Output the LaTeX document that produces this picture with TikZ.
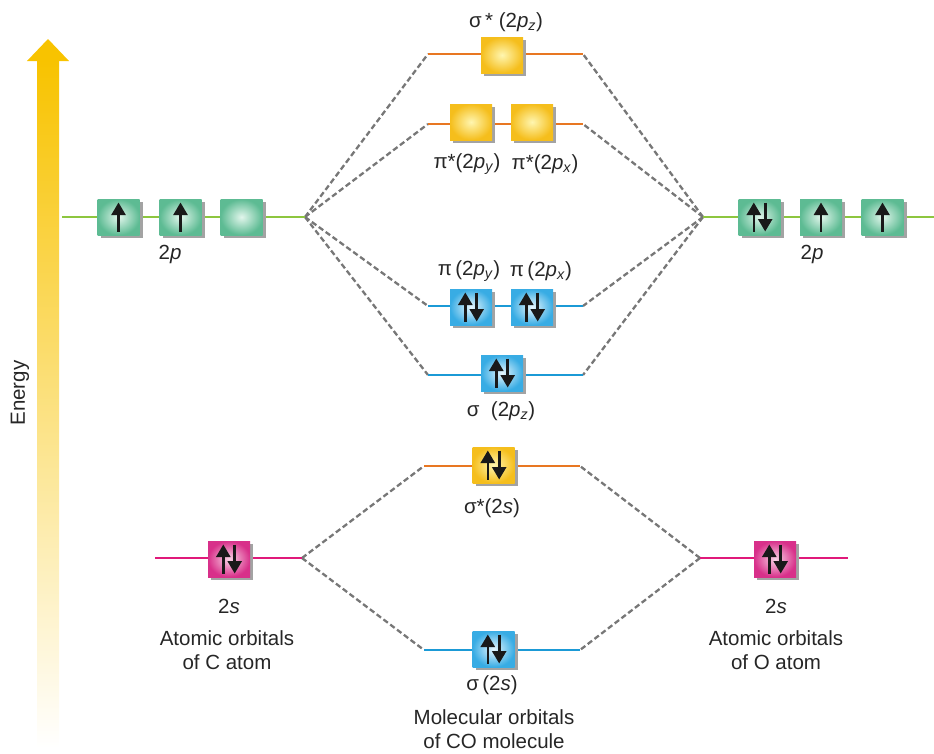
\documentclass[tikz,border=0pt]{standalone}
\usepackage{fontspec}
\setmainfont{Liberation Sans}
\usetikzlibrary{arrows.meta,shadows,calc}
\definecolor{enY}{HTML}{F8C300}
\definecolor{gIn}{HTML}{E2F6EC}
\definecolor{gOut}{HTML}{5DBB93}
\definecolor{yIn}{HTML}{FFF6B0}
\definecolor{yOut}{HTML}{F5BE1C}
\definecolor{bIn}{HTML}{E8F7FE}
\definecolor{bOut}{HTML}{38ACE4}
\definecolor{pIn}{HTML}{F8D4E6}
\definecolor{pOut}{HTML}{D8308A}
\definecolor{gLine}{HTML}{8DC63F}
\definecolor{oLine}{HTML}{E87722}
\definecolor{bLine}{HTML}{1B9AD6}
\definecolor{pLine}{HTML}{E0197A}
\definecolor{shd}{HTML}{A3A3A3}
\definecolor{dsh}{HTML}{777777}
\newcommand\spinup[2][0]{\draw[spinarrow] ($(#2)+(#1,14.5)$) -- ($(#2)+(#1,-14.5)$);}
\newcommand\spindown[2][0]{\draw[spinarrow] ($(#2)+(#1,-14.5)$) -- ($(#2)+(#1,14.5)$);}
\newcommand\spinpair[1]{\spinup[-5.7]{#1}\spindown[5.7]{#1}}
\newcommand\ip[1]{2\textit{p}\textsubscript{\textit{#1}}}
\tikzset{
  lab/.style={font=\fontsize{20.5}{24}\selectfont, inner sep=0pt, text=black!85},
  obox/.style={minimum width=42pt, minimum height=36pt, inner sep=0pt,
    drop shadow={shadow xshift=3pt, shadow yshift=-3pt, fill=shd, opacity=1}},
  gbox/.style={obox, inner color=gIn, outer color=gOut},
  ybox/.style={obox, inner color=yIn, outer color=yOut},
  bbox/.style={obox, inner color=bIn, outer color=bOut},
  pbox/.style={obox, inner color=pIn, outer color=pOut},
  spinarrow/.style={line width=2.6pt, black!90, -{Triangle[width=14pt,length=12.5pt]}},
  corr/.style={dsh, line width=2.3pt, dash pattern=on 5.5pt off 3pt},
  gl/.style={gLine, line width=2.2pt},
  ol/.style={oLine, line width=2.4pt},
  bl/.style={bLine, line width=2.4pt},
  pl/.style={pLine, line width=2.4pt},
}
\begin{document}
\begin{tikzpicture}[x=1pt,y=-1pt]
\useasboundingbox (0,0) rectangle (934,753);
% energy arrow
\shade[top color=enY, bottom color=white] (37,60.5) rectangle (59,748);
\fill[enY] (27,61) -- (48,39) -- (69,61) -- cycle;
\node[lab, rotate=90] (energy) at (20,393) {Energy};
% line end coordinates
\coordinate (cpL) at (62,217);  \coordinate (cpR) at (305,217);
\coordinate (opL) at (703,217); \coordinate (opR) at (934,217);
\coordinate (aL) at (428,54);   \coordinate (aR) at (583,54);
\coordinate (bL) at (428,124);  \coordinate (bR) at (583,124);
\coordinate (dL) at (428,306);  \coordinate (dR) at (583,306);
\coordinate (eL) at (428,375);  \coordinate (eR) at (583,375);
\coordinate (fL) at (424,466);  \coordinate (fR) at (580,466);
\coordinate (gL) at (424,650);  \coordinate (gR) at (580,650);
\coordinate (csL) at (155,558); \coordinate (csR) at (302,558);
\coordinate (osL) at (700,558); \coordinate (osR) at (848,558);
% correlation lines
\foreach \t in {aL,bL,dL,eL} \draw[corr] (cpR) -- (\t);
\foreach \t in {aR,bR,dR,eR} \draw[corr] (opL) -- (\t);
\foreach \t in {fL,gL} \draw[corr] (csR) -- (\t);
\foreach \t in {fR,gR} \draw[corr] (osL) -- (\t);
% level lines
\draw[gl] (cpL) -- (cpR);
\draw[gl] (opL) -- (opR);
\draw[ol] (aL) -- (aR);
\draw[ol] (bL) -- (bR);
\draw[bl] (dL) -- (dR);
\draw[bl] (eL) -- (eR);
\draw[ol] (fL) -- (fR);
\draw[bl] (gL) -- (gR);
\draw[pl] (csL) -- (csR);
\draw[pl] (osL) -- (osR);
% boxes
\node[gbox] (c1) at (118.5,217) {};
\node[gbox] (c2) at (180.5,217) {};
\node[gbox] (c3) at (241.5,217) {};
\node[gbox] (o1) at (759.5,217) {};
\node[gbox] (o2) at (821,217) {};
\node[gbox] (o3) at (882.5,217) {};
\node[ybox] (sps) at (502,55) {};
\node[ybox] (pis1) at (471,122) {};
\node[ybox] (pis2) at (532,122) {};
\node[bbox] (pi1) at (471,307) {};
\node[bbox] (pi2) at (532,307) {};
\node[bbox] (sp) at (502,373) {};
\node[ybox] (sss) at (493.5,465) {};
\node[bbox] (ss) at (493.5,649) {};
\node[pbox] (cs) at (229,559) {};
\node[pbox] (os) at (775,559) {};
% spins
\spinup{c1}\spinup{c2}
\spinpair{o1}\spinup{o2}\spinup{o3}
\spinpair{pi1}\spinpair{pi2}\spinpair{sp}
\spinpair{sss}\spinpair{ss}
\spinpair{cs}\spinpair{os}
% labels
\node[lab] (l-sps) at (506,22) {σ\,*~(\ip{z})};
\node[lab] (l-pis1) at (467,164) {π*(\ip{y})};
\node[lab] (l-pis2) at (545,164) {π*(\ip{x})};
\node[lab] (l-pi1) at (469,271) {π\,(\ip{y})};
\node[lab] (l-pi2) at (541,271) {π\,(\ip{x})};
\node[lab] (l-sp) at (501,411) {σ~~(\ip{z})};
\node[lab] (l-sss) at (492,508) {σ*(2\textit{s})};
\node[lab] (l-ss) at (492,685) {σ\,(2\textit{s})};
\node[lab] (l-mo1) at (494,717) {Molecular orbitals};
\node[lab] (l-mo2) at (494,741) {of CO molecule};
\node[lab] (l-c2p) at (170,254) {2\textit{p}};
\node[lab] (l-o2p) at (812,254) {2\textit{p}};
\node[lab] (l-c2s) at (229,606) {2\textit{s}};
\node[lab] (l-ca1) at (227,638) {Atomic orbitals};
\node[lab] (l-ca2) at (227,662) {of C atom};
\node[lab] (l-o2s) at (776,606) {2\textit{s}};
\node[lab] (l-oa1) at (776,638) {Atomic orbitals};
\node[lab] (l-oa2) at (776,662) {of O atom};
\end{tikzpicture}
\end{document}
